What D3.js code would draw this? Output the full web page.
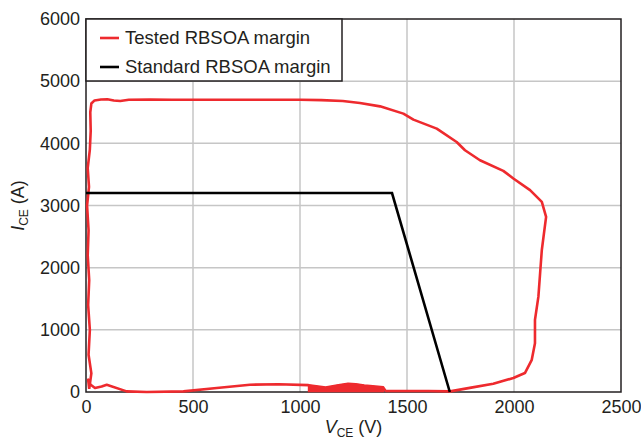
<!DOCTYPE html>
<html><head><meta charset="utf-8">
<script src="https://cdn.jsdelivr.net/npm/d3@7"></script>
<style>body{margin:0;background:#fff}svg{display:block}</style>
</head><body><svg id="c" width="641" height="444"></svg>
<script>
const xTicks = [0, 500, 1000, 1500, 2000, 2500];
const yTicks = [0, 1000, 2000, 3000, 4000, 5000, 6000];
const seriesNames = ["Tested RBSOA margin", "Standard RBSOA margin"];
const standardV = [0, 1430, 1700];
const standardI = [3200, 3200, 0];
const testedV = [15,25,12,18,10,15,8,12,5,14,8,18,22,20,25,40,70,100,130,160,200,300,400,600,800,1000,1100,1200,1280,1374,1483,1530,1639,1732,1771,1841,1950,1997,2075,2130,2150,2140,2130,2122,2114,2098,2098,2083,2051,1997,1903,1800,1701,1600,1500,1400,1389,1340,1300,1260,1225,1180,1120,1040,900,766,611,455,284,190,97,73,42,22,10,15];
const testedI = [50,300,600,1000,1400,1800,2200,2600,3000,3300,3600,3900,4200,4500,4640,4690,4705,4710,4690,4680,4700,4705,4700,4700,4700,4700,4695,4680,4650,4595,4478,4381,4237,4022,3889,3728,3557,3435,3247,3059,2818,2552,2284,1910,1534,1160,786,518,305,225,133,70,10,15,15,18,74,90,105,125,133,110,70,110,125,117,64,10,0,10,117,90,64,117,200,50];
// noisy band near the bottom (filled)
const bandV = [1040, 1120, 1180, 1225, 1260, 1300, 1340, 1389];
const bandTop = [110, 70, 110, 133, 125, 105, 90, 74];
const bandBottom = [10, 10, 10, 10, 10, 10, 10, 10];

const svg = d3.select("#c");
const m = {l: 86, r: 621, t: 19, b: 392};
const x = d3.scaleLinear().domain([0, 2500]).range([m.l, m.r]);
const y = d3.scaleLinear().domain([0, 6000]).range([m.b, m.t]);
const font = "'Liberation Sans', Arial, sans-serif";
const txt = "#231f20";
const red = "#ee2a2e";

// grid
svg.append("g").selectAll("line").data(xTicks.slice(1, -1)).join("line")
  .attr("x1", d => x(d)).attr("x2", d => x(d)).attr("y1", m.t).attr("y2", m.b)
  .attr("stroke", "#c6c6c6").attr("stroke-width", 1.5);
svg.append("g").selectAll("line").data(yTicks.slice(1, -1)).join("line")
  .attr("y1", d => y(d)).attr("y2", d => y(d)).attr("x1", m.l).attr("x2", m.r)
  .attr("stroke", "#c6c6c6").attr("stroke-width", 1.5);

// frame
svg.append("rect").attr("x", m.l).attr("y", m.t).attr("width", m.r - m.l).attr("height", m.b - m.t)
  .attr("fill", "none").attr("stroke", "#231f20").attr("stroke-width", 1.5);

// axes labels
const xa = d3.axisBottom(x).tickValues(xTicks).tickSize(0).tickPadding(8).tickFormat(d3.format("d"));
const gx = svg.append("g").attr("transform", `translate(0,${m.b})`).call(xa);
gx.select(".domain").remove();
gx.selectAll("text").attr("font-family", font).attr("font-size", 18).attr("fill", txt);
const ya = d3.axisLeft(y).tickValues(yTicks).tickSize(0).tickPadding(6).tickFormat(d3.format("d"));
const gy = svg.append("g").attr("transform", `translate(${m.l},0)`).call(ya);
gy.select(".domain").remove();
gy.selectAll("text").attr("font-family", font).attr("font-size", 18).attr("fill", txt);

const line = d3.line().x(d => x(d[0])).y(d => y(d[1]));
const tested = testedV.map((v, i) => [v, testedI[i]]);
const standard = standardV.map((v, i) => [v, standardI[i]]);
const band = bandV.map((v, i) => [v, bandTop[i], bandBottom[i]]);

svg.append("path").datum(band)
  .attr("d", d3.area().x(d => x(d[0])).y0(d => y(d[2])).y1(d => y(d[1])))
  .attr("fill", red).attr("stroke", red).attr("stroke-width", 1.5);
svg.append("path").datum(tested).attr("d", line).attr("fill", "none")
  .attr("stroke", red).attr("stroke-width", 2.6).attr("stroke-linejoin", "round");
svg.append("path").datum(standard).attr("d", line).attr("fill", "none")
  .attr("stroke", "#000").attr("stroke-width", 2.6);

// legend
const lg = svg.append("g");
lg.append("rect").attr("x", m.l).attr("y", m.t).attr("width", 256).attr("height", 62)
  .attr("fill", "#fff").attr("stroke", "#231f20").attr("stroke-width", 1.5);
const colors = [red, "#000"];
seriesNames.forEach((n, i) => {
  const cy = 38 + i * 29;
  lg.append("line").attr("x1", 100).attr("x2", 119).attr("y1", cy).attr("y2", cy)
    .attr("stroke", colors[i]).attr("stroke-width", 2.6);
  lg.append("text").attr("x", 125).attr("y", cy).attr("dy", "0.35em").text(n)
    .attr("font-family", font).attr("font-size", 18.5).attr("fill", txt);
});

// axis titles
const xt = svg.append("text").attr("x", (m.l + m.r) / 2).attr("y", 433).attr("text-anchor", "middle")
  .attr("font-family", font).attr("font-size", 18).attr("fill", txt);
xt.append("tspan").attr("font-style", "italic").text("V");
xt.append("tspan").attr("font-size", 12).attr("dy", 4).text("CE");
xt.append("tspan").attr("dy", -4).text(" (V)");
const yt = svg.append("text").attr("transform", `translate(24,${(m.t + m.b) / 2}) rotate(-90)`)
  .attr("text-anchor", "middle").attr("font-family", font).attr("font-size", 18).attr("fill", txt);
yt.append("tspan").attr("font-style", "italic").text("I");
yt.append("tspan").attr("font-size", 12).attr("dy", 4).text("CE");
yt.append("tspan").attr("dy", -4).text(" (A)");
</script></body></html>
